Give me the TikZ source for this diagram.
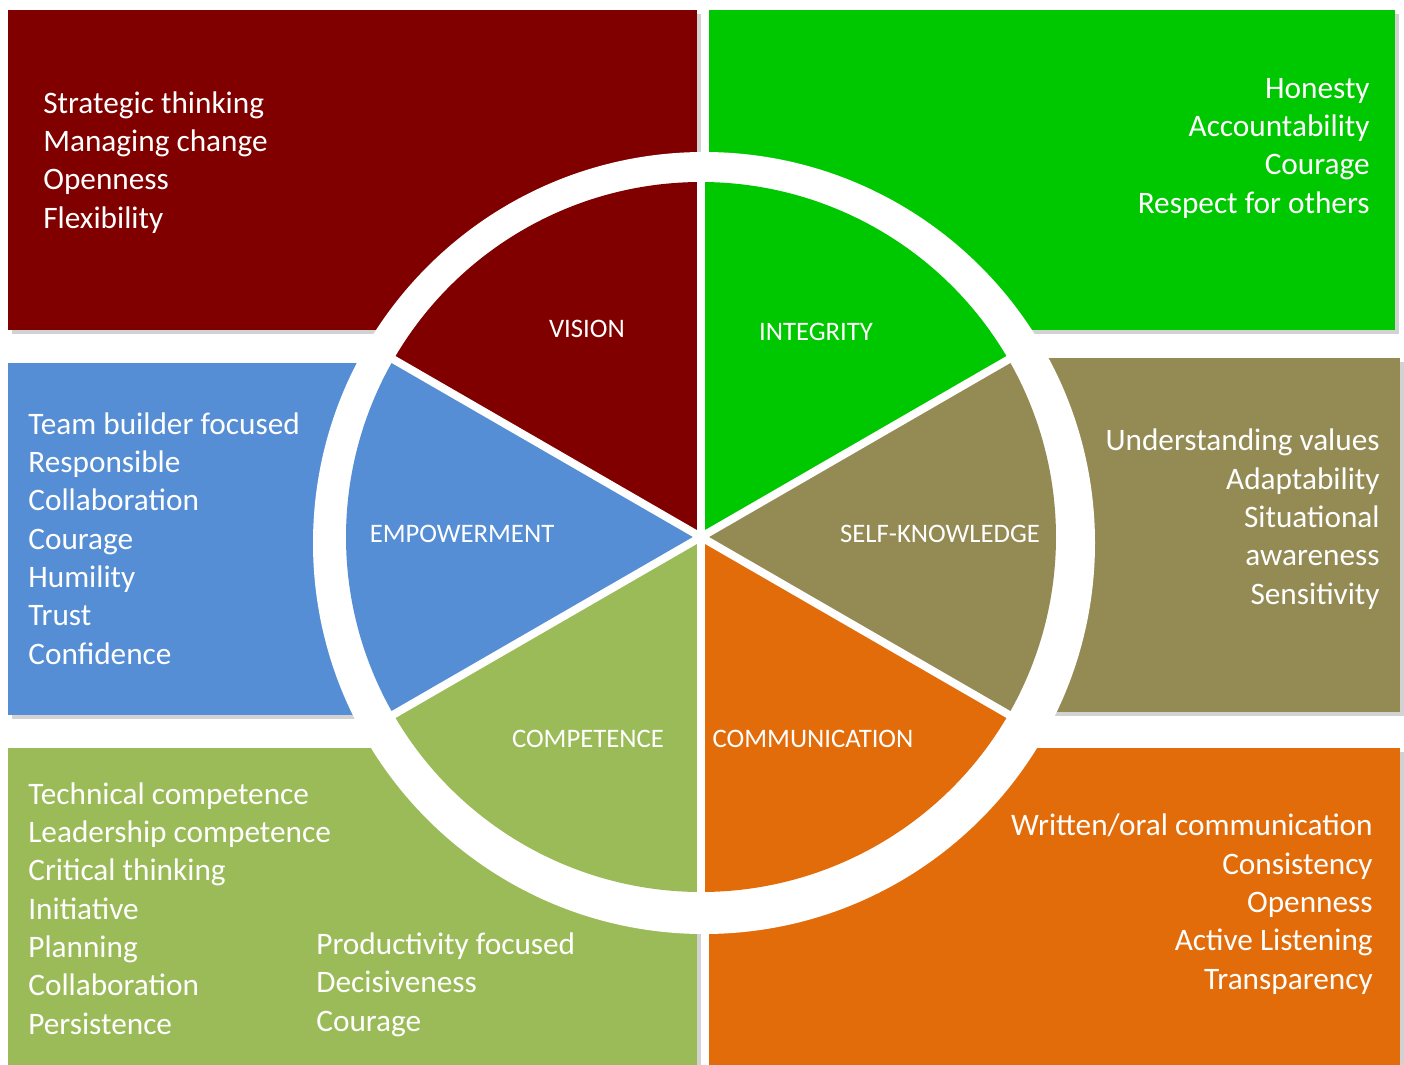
\documentclass[tikz,border=0pt]{standalone}
\usepackage{fontspec}
\setmainfont{Carlito}
\usetikzlibrary{shadows}
\definecolor{visionred}{RGB}{128,0,0}
\definecolor{integritygreen}{RGB}{0,200,0}
\definecolor{selfolive}{RGB}{148,138,84}
\definecolor{commorange}{RGB}{227,108,10}
\definecolor{compgreen}{RGB}{155,187,89}
\definecolor{empblue}{RGB}{85,142,213}
\tikzset{
  box/.style={drop shadow={shadow xshift=2pt, shadow yshift=-2.5pt, opacity=0.35}},
  list/.style={text=white, inner sep=0pt, font=\fontsize{17.8}{21.8}\selectfont},
  sector/.style={text=white, inner sep=0pt, font=\fontsize{15.2}{18}\selectfont}
}

\begin{document}
\begin{tikzpicture}[x=0.02cm, y=-0.02cm]
        \useasboundingbox (0,0) rectangle (1404,1065);
        \fill [white] (0,0) rectangle (1404,1065);
        \coordinate (c) at (701,537);
        \coordinate (r) at (704,543);
        \fill [visionred, box] (8,10) rectangle (697,330);
        \fill [integritygreen, box] (709,10) rectangle (1395,330);
        \fill [empblue, box] (8,363) rectangle (697,715);
        \fill [selfolive, box] (709,358) rectangle (1400,712);
        \fill [compgreen, box] (8,748) rectangle (697,1070);
        \fill [commorange, box] (709,748) rectangle (1400,1070);
        \fill [white] (r) circle [radius=391];
        \foreach \a/\col in {90/visionred, 30/integritygreen, -30/selfolive, -90/commorange, -150/compgreen, 150/empblue}
            \fill [\col] (c) -- ++(-\a:355) arc [start angle=-\a, delta angle=-60, radius=355] -- cycle;
        \foreach \a in {90, 30, -30, -90, -150, 150}
            \draw [white, line width=4.5pt] (c) -- ++(-\a:360);
        \node [sector] (vision) at (587,329) {VISION};
        \node [sector] (integrity) at (816,332) {INTEGRITY};
        \node [sector] (empowerment) at (462,534) {EMPOWERMENT};
        \node [sector] (selfknowledge) at (940,534) {SELF-KNOWLEDGE};
        \node [sector] (competence) at (588,739) {COMPETENCE};
        \node [sector] (communication) at (813,739) {COMMUNICATION};
        \node [list, anchor=base west, align=left] (visionlist) at (43,228) {Strategic thinking\\Managing change\\Openness\\Flexibility};
        \node [list, anchor=base east, align=right] (integritylist) at (1370,213) {Honesty\\Accountability\\Courage\\Respect for others};
        \node [list, anchor=base west, align=left] (empowermentlist) at (28,664) {Team builder focused\\Responsible\\Collaboration\\Courage\\Humility\\Trust\\Confidence};
        \node [list, anchor=base east, align=right] (selfknowledgelist) at (1380,604) {Understanding values\\Adaptability\\Situational\\awareness\\Sensitivity};
        \node [list, anchor=base west, align=left] (competencelist) at (28,1034) {Technical competence\\Leadership competence\\Critical thinking\\Initiative\\Planning\\Collaboration\\Persistence};
        \node [list, anchor=base west, align=left] (competencelist2) at (316,1031) {Productivity focused\\Decisiveness\\Courage};
        \node [list, anchor=base east, align=right] (communicationlist) at (1373,989) {Written/oral communication\\Consistency\\Openness\\Active Listening\\Transparency};
    \end{tikzpicture}
\end{document}
